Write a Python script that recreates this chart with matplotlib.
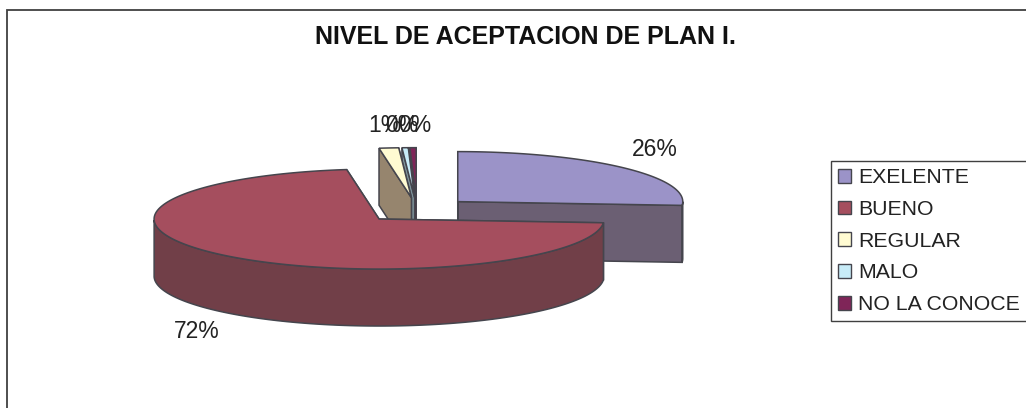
import numpy as np
import matplotlib
matplotlib.use("Agg")
import matplotlib.pyplot as plt
from matplotlib.patches import Polygon, Patch, Rectangle

categories = ["EXELENTE", "BUENO", "REGULAR", "MALO", "NO LA CONOCE"]
values = [26.2, 71.5, 1.4, 0.45, 0.45]
labels = ["26%", "72%", "1%", "0%", "0%"]
top_colors = ["#9b93c8", "#a54e5e", "#fffbd2", "#c8ecf8", "#7f2558"]
side_colors = ["#6b5f73", "#713f48", "#96856e", "#7d929a", "#4e1a38"]

plt.rcParams["font.family"] = ["Liberation Sans", "DejaVu Sans"]
EDGE = "#45454d"
CX, CY = 417, 210      # pie centre in pixels
RX, RY = 225, 50       # ellipse radii
DEPTH = 57
EXPLODE = 0.247


def pt(ang, cx, cy):
    # angle is clockwise from 12 o'clock
    return np.column_stack([cx + RX * np.sin(ang), cy - RY * np.cos(ang)])


fig = plt.figure(figsize=(10.26, 4.08), dpi=100)
ax = fig.add_axes([0, 0, 1, 1])
ax.set_xlim(0, 1026)
ax.set_ylim(408, 0)
ax.axis("off")

ax.add_patch(Rectangle((7, 9.5), 1040, 420, fc="white", ec="#404040", lw=1.3))

bounds = np.cumsum([0] + values) / sum(values) * 2 * np.pi
slices = []
for i in range(len(values)):
    a0, a1 = bounds[i], bounds[i + 1]
    mid = (a0 + a1) / 2
    cx = CX + EXPLODE * RX * np.sin(mid)
    cy = CY - EXPLODE * RY * np.cos(mid)
    slices.append((a0, a1, cx, cy))

# back to front
for i in [4, 3, 2, 0, 1]:
    a0, a1, cx, cy = slices[i]
    ang = np.linspace(a0, a1, 200)
    rim = pt(ang, cx, cy)
    apex = np.array([[cx, cy]])
    down = np.array([0, DEPTH])
    for a in (a1, a0):
        edge = np.vstack([apex, pt(np.array([a]), cx, cy)])
        wall = np.vstack([edge, edge[::-1] + down])
        ax.add_patch(Polygon(wall, fc=side_colors[i], ec=EDGE, lw=1.1, zorder=2))
    front = np.cos(ang) <= 0
    if front.any():
        r = rim[front]
        ax.add_patch(Polygon(np.vstack([r, r[::-1] + down]), fc=side_colors[i], ec=EDGE, lw=1.1, zorder=2))
    ax.add_patch(Polygon(np.vstack([apex, rim]), fc=top_colors[i], ec=EDGE, lw=1.1, zorder=2))

ax.text(525, 37, "NIVEL DE ACEPTACION DE PLAN I.", ha="center", va="center",
        fontsize=18, fontweight="bold", color="#111111")

label_pos = [(655, 150), (197, 331), (385, 126), (402, 126), (415, 126)]
for txt, (x, y) in zip(labels, label_pos):
    ax.text(x, y, txt, ha="center", va="center", fontsize=16.5, color="#222222")

handles = [Patch(fc=c, ec=EDGE, lw=1) for c in top_colors]
fig.legend(handles, categories, loc="upper left",
           bbox_to_anchor=(831 / 1026, 1 - 161 / 408, 240 / 1026, 0), mode="expand",
           fontsize=15.3, frameon=True, fancybox=False, edgecolor="#404040", framealpha=1,
           handlelength=0.62, handleheight=0.62, handletextpad=0.32, labelspacing=0.6,
           borderpad=0.34, borderaxespad=0, labelcolor="#222222")

fig.savefig("out.png", dpi=100)
